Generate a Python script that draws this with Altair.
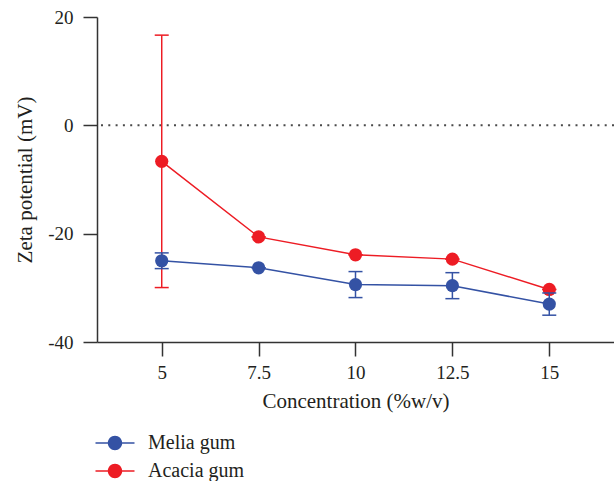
import altair as alt
import pandas as pd

# ---- data ----
concentration = [5, 7.5, 10, 12.5, 15]
series_names = ["Melia gum", "Acacia gum"]
series_colors = ["#3452a4", "#ed1c24"]

melia_mean = [-25.0, -26.3, -29.4, -29.6, -33.0]
melia_err = [1.45, 0.0, 2.4, 2.4, 2.05]
acacia_mean = [-6.65, -20.6, -23.9, -24.7, -30.3]
acacia_err = [23.3, 0.0, 0.0, 0.0, 0.0]

y_ticks = [-40, -20, 0, 20]
zero_line = [0]

FONT = "Liberation Serif"
TEXT = "#231f20"
AXIS = "#333333"

rows = []
for name, means, errs in [("Melia gum", melia_mean, melia_err),
                          ("Acacia gum", acacia_mean, acacia_err)]:
    for c, m, e in zip(concentration, means, errs):
        rows.append({"series": name, "conc": c, "mean": m, "lo": m - e, "hi": m + e})
df = pd.DataFrame(rows)

x_scale = alt.Scale(domain=[3.33, 16.67], nice=False, zero=False)
y_scale = alt.Scale(domain=[-40, 20], nice=False, zero=False)
color_scale = alt.Scale(domain=series_names, range=series_colors)

x_axis = alt.Axis(values=concentration, title="Concentration (%w/v)",
                  labelExpr="datum.value + ''", tickSize=14, labelPadding=7,
                  titlePadding=8, grid=False)
y_axis = alt.Axis(values=y_ticks, title="Zeta potential (mV)",
                  labelExpr="datum.value + ''", tickSize=14, labelPadding=10,
                  titlePadding=12, grid=False)

X = alt.X("conc:Q", scale=x_scale, axis=x_axis)


def Yf(field):
    return alt.Y(field, type="quantitative", scale=y_scale, axis=y_axis)


LEGEND_PATH = ("M-1.95,-0.075L-0.6,-0.075L-0.6,0.075L-1.95,0.075Z "
               "M0.6,-0.075L1.95,-0.075L1.95,0.075L0.6,0.075Z "
               "M-0.72,0A0.72,0.72,0,1,1,0.72,0A0.72,0.72,0,1,1,-0.72,0Z")

legend = alt.Legend(title=None, orient="none", legendX=8, legendY=416,
                    symbolType=LEGEND_PATH, symbolSize=400, symbolStrokeWidth=0,
                    symbolOpacity=1, labelFont=FONT, labelFontSize=20,
                    labelColor=TEXT, labelOffset=23, rowPadding=8, padding=0,
                    labelLimit=300)


def series_layers(name):
    base = alt.Chart(df).transform_filter(alt.datum.series == name)
    color = alt.Color("series:N", scale=color_scale, legend=legend)
    line = base.mark_line(strokeWidth=1.5).encode(x=X, y=Yf("mean"), color=color)
    bar = base.mark_rule(strokeWidth=1.5).encode(x=X, y=Yf("lo"), y2="hi:Q", color=color)
    cap_lo = base.mark_tick(orient="horizontal", size=14, thickness=1.5, opacity=1).encode(
        x=X, y=Yf("lo"), color=color)
    cap_hi = base.mark_tick(orient="horizontal", size=14, thickness=1.5, opacity=1).encode(
        x=X, y=Yf("hi"), color=color)
    pts = base.mark_point(filled=True, size=175, opacity=1).encode(
        x=X, y=Yf("mean"),
        fill=alt.Fill("series:N", scale=color_scale, legend=legend))
    return [line, bar, cap_lo, cap_hi, pts]


zero = alt.Chart(pd.DataFrame({"v": zero_line})).mark_rule(
    color="#4a4a4a", strokeWidth=2, strokeDash=[2, 5.3]).encode(y=Yf("v"))

chart = alt.layer(
    zero, *series_layers("Acacia gum"), *series_layers("Melia gum")
).properties(
    width=517, height=325,
    autosize=alt.AutoSizeParams(type="none"),
    padding={"left": 97, "top": 17, "right": 0, "bottom": 139},
).configure_view(stroke=None).configure_axis(
    domainColor=AXIS, tickColor=AXIS, domainWidth=1.5, tickWidth=1.5,
    labelFont=FONT, labelFontSize=19, labelColor=TEXT,
    titleFont=FONT, titleFontSize=21, titleColor=TEXT, titleFontWeight="normal",
)

chart.save("out.html", embed_options={"renderer": "svg", "actions": False})
